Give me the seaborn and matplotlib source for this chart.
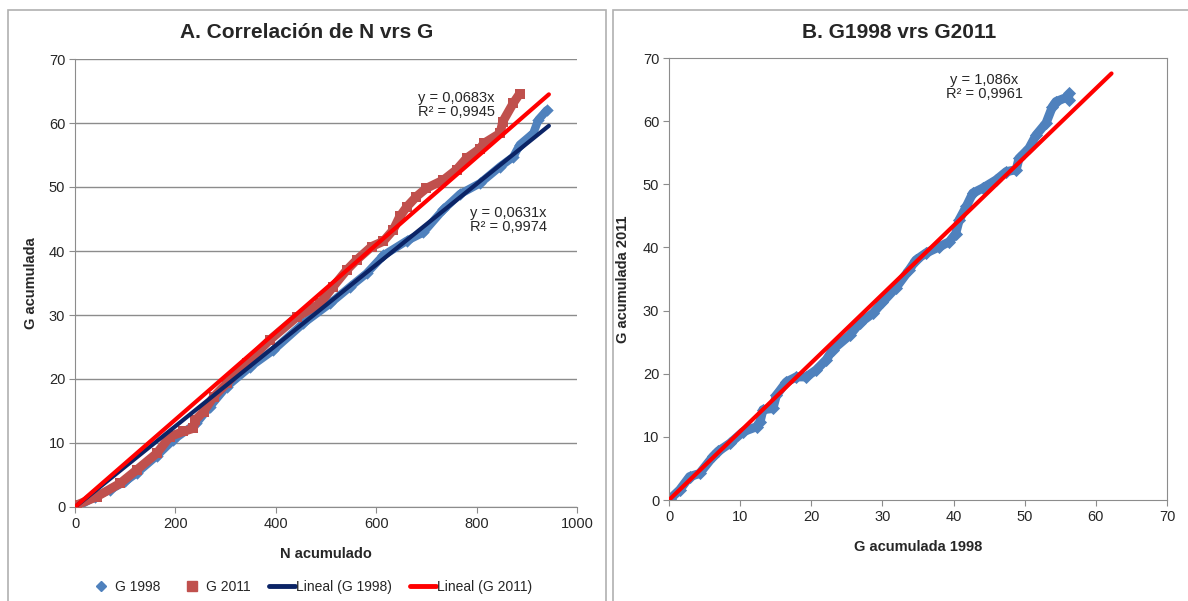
import pandas as pd
import matplotlib.pyplot as plt
import seaborn as sns
from matplotlib.lines import Line2D
from matplotlib.patches import Rectangle

n_1998 = [0, 3, 40, 70, 100, 123, 163, 196, 242, 269, 302, 349, 395, 455, 508, 548, 581,
          614, 661, 694, 734, 767, 807, 847, 873, 886, 913, 923, 940]
g_1998 = [0, 0.0, 1.6, 2.7, 4.0, 5.3, 8.0, 10.5, 13.1, 15.7, 18.8, 21.9, 24.5, 28.7, 31.8,
          34.4, 36.5, 39.3, 41.6, 42.9, 46.5, 48.9, 50.6, 53.2, 54.7, 56.6, 58.4, 60.5, 62.0]

n_2011 = [0, 3, 43, 90, 123, 163, 189, 216, 236, 240, 256, 276, 302, 342, 388, 442, 488,
          514, 541, 561, 591, 614, 634, 647, 661, 680, 700, 734, 760, 780, 807, 814, 847,
          852, 873, 886]
g_2011 = [0, 0.3, 1.6, 3.7, 5.8, 8.4, 11.0, 11.8, 12.3, 13.6, 14.9, 17.2, 19.3, 22.5, 26.1,
          29.7, 31.8, 34.4, 37.0, 38.6, 40.7, 41.5, 43.3, 45.4, 46.9, 48.5, 49.8, 51.1, 52.7,
          54.5, 56.0, 56.8, 58.4, 60.2, 63.1, 64.6]

gb_1998 = [0.1, 1.5, 2.9, 4.3, 6.2, 6.9, 8.6, 10.4, 12.3, 12.8, 13.2, 14.6, 15.1, 16.5,
           17.9, 19.3, 20.7, 22.1, 23.0, 25.4, 26.8, 28.7, 30.0, 31.9, 33.8, 34.7, 36.1,
           38.0, 39.4, 40.3, 40.8, 41.8, 42.7, 44.1, 46.0, 47.4, 48.8, 49.2, 50.6, 51.6,
           53.0, 53.9, 54.4, 56.2, 56.2]
gb_2011 = [0.1, 1.6, 3.7, 4.2, 6.9, 7.7, 9.0, 10.8, 11.6, 12.4, 14.3, 14.5, 16.6, 18.7,
           19.5, 19.5, 20.6, 22.2, 23.8, 26.1, 28.0, 29.6, 31.3, 33.6, 36.5, 38.0, 39.1,
           40.1, 40.9, 42.2, 44.4, 46.5, 48.6, 49.4, 50.7, 52.0, 52.3, 54.1, 55.7, 57.8,
           59.7, 62.3, 63.1, 63.4, 64.4]

# Lineas de tendencia (y = a x) y su rango
pend_1998, r2_1998, fin_1998 = 0.0631, 0.9974, 944
pend_2011, r2_2011, fin_2011 = 0.0683, 0.9945, 944
pend_b, r2_b, fin_b = 1.086, 0.9961, 62.2

azul = "#4F81BD"
rojo_m = "#C0504D"
marino = "#0B2466"
rojo = "#FF0000"
gris = "#8C8C8C"

sns.set_style("white")
plt.rcParams["font.family"] = ["Liberation Sans", "DejaVu Sans"]
plt.rcParams["font.size"] = 10

fig = plt.figure(figsize=(11.88, 6.01), dpi=100)

# marcos de cada panel
fig.patches.append(Rectangle((8 / 1188, -0.01), 598 / 1188, 1 - 10 / 601 + 0.01,
                             transform=fig.transFigure, fill=False, ec="#B0B0B0", lw=1.2))
fig.patches.append(Rectangle((613 / 1188, -0.01), 0.6, 1 - 10 / 601 + 0.01,
                             transform=fig.transFigure, fill=False, ec="#B0B0B0", lw=1.2))

ax1 = fig.add_axes([75 / 1188, 1 - 507 / 601, 502 / 1188, 448 / 601])
ax2 = fig.add_axes([669 / 1188, 1 - 500 / 601, 498 / 1188, 442 / 601])

df_a98 = pd.DataFrame({"N": n_1998, "G": g_1998})
df_a11 = pd.DataFrame({"N": n_2011, "G": g_2011})
df_b = pd.DataFrame({"x": gb_1998, "y": gb_2011})

# ---- Panel A ----
ax1.yaxis.grid(True, color=gris, lw=1)
ax1.set_axisbelow(True)
sns.lineplot(data=df_a98, x="N", y="G", ax=ax1, color=azul, lw=6, sort=False, zorder=2)
sns.scatterplot(data=df_a98, x="N", y="G", ax=ax1, color=azul, marker="D", s=40,
                linewidth=0, zorder=2)
sns.lineplot(data=df_a11, x="N", y="G", ax=ax1, color=rojo_m, lw=6.5, sort=False, zorder=3)
sns.scatterplot(data=df_a11, x="N", y="G", ax=ax1, color=rojo_m, marker="s", s=45,
                linewidth=0, zorder=3)
x98 = [0, fin_1998]
x11 = [0, fin_2011]
sns.lineplot(x=x98, y=[pend_1998 * v for v in x98], ax=ax1, color=marino, lw=3, zorder=4)
sns.lineplot(x=x11, y=[pend_2011 * v for v in x11], ax=ax1, color=rojo, lw=3, zorder=5)

ax1.set_xlim(0, 1000)
ax1.set_ylim(0, 70)
ax1.set_xticks(range(0, 1001, 200))
ax1.set_yticks(range(0, 71, 10))
for s in ["top", "right"]:
    ax1.spines[s].set_visible(False)
for s in ["left", "bottom"]:
    ax1.spines[s].set_color(gris)
ax1.tick_params(length=4, color=gris, labelsize=10.5, pad=3, direction="out",
                left=True, bottom=True)
ax1.set_xlabel("N acumulado", fontsize=10.5, fontweight="bold", labelpad=12)
ax1.set_ylabel("G acumulada", fontsize=10.5, fontweight="bold")
ax1.yaxis.set_label_coords(-37 / 502, 0.5)
fig.text(307 / 1188, 1 - 32 / 601, "A. Correlación de N vrs G", fontsize=15,
         fontweight="bold", ha="center", va="center")
ax1.text(495 / 1188, 1 - 105 / 601, f"y = {pend_2011:.4f}x\nR² = {r2_2011:.4f}".replace(".", ","),
         transform=fig.transFigure, ha="right", va="center", fontsize=10.5, linespacing=1.0)
ax1.text(547 / 1188, 1 - 220 / 601, f"y = {pend_1998:.4f}x\nR² = {r2_1998:.4f}".replace(".", ","),
         transform=fig.transFigure, ha="right", va="center", fontsize=10.5, linespacing=1.0)

handles = [
    Line2D([], [], ls="none", marker="D", color=azul, markersize=5),
    Line2D([], [], ls="none", marker="s", color=rojo_m, markersize=7),
    Line2D([], [], color=marino, lw=3.5),
    Line2D([], [], color=rojo, lw=3.5),
]
etiquetas = ["G 1998", "G 2011", "Lineal (G 1998)", "Lineal (G 2011)"]
fig.legend(handles, etiquetas, loc="center", bbox_to_anchor=(310 / 1188, 1 - 587 / 601),
           ncol=4, frameon=False, fontsize=10, handlelength=1.9, handletextpad=0.05,
           columnspacing=1.3)

# ---- Panel B ----
sns.lineplot(data=df_b, x="x", y="y", ax=ax2, color=azul, lw=6.5, sort=False, zorder=2)
sns.scatterplot(data=df_b, x="x", y="y", ax=ax2, color=azul, marker="D", s=45,
                linewidth=0, zorder=2)
xb = [0, fin_b]
sns.lineplot(x=xb, y=[pend_b * v for v in xb], ax=ax2, color=rojo, lw=3, zorder=4)
ax2.set_xlim(0, 70)
ax2.set_ylim(0, 70)
ax2.set_xticks(range(0, 71, 10))
ax2.set_yticks(range(0, 71, 10))
for s in ax2.spines.values():
    s.set_color(gris)
ax2.tick_params(length=4, color=gris, labelsize=10.5, pad=3, direction="out",
                left=True, bottom=True)
ax2.set_xlabel("G acumulada 1998", fontsize=10.5, fontweight="bold", labelpad=12)
ax2.set_ylabel("G acumulada 2011", fontsize=10.5, fontweight="bold")
ax2.yaxis.set_label_coords(-39 / 498, 0.5)
fig.text(899 / 1188, 1 - 32 / 601, "B. G1998 vrs G2011", fontsize=15,
         fontweight="bold", ha="center", va="center")
ax2.text(984 / 1188, 1 - 87 / 601, f"y = {pend_b:.3f}x\nR² = {r2_b:.4f}".replace(".", ","),
         transform=fig.transFigure, ha="center", va="center", fontsize=10.5, linespacing=1.0)

fig.savefig("out.png", dpi=100)
